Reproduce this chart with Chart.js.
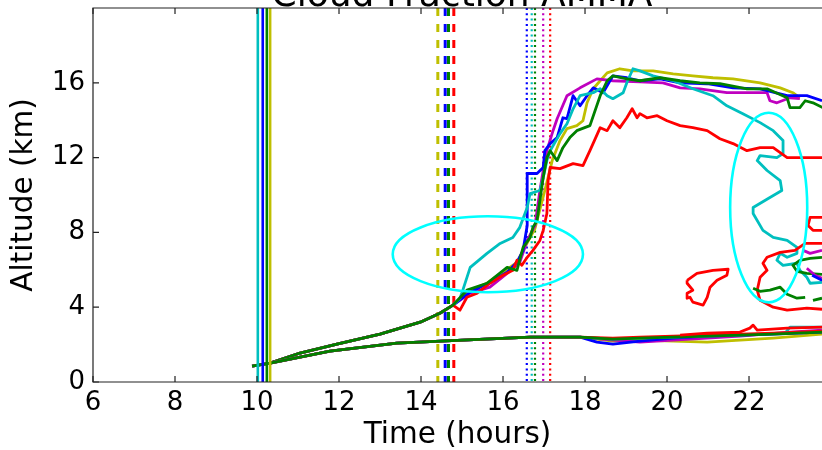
<!DOCTYPE html>
<html>
<head>
<meta charset="utf-8">
<script src="https://cdn.jsdelivr.net/npm/chart.js@4.4.0/dist/chart.umd.min.js"></script>
<style>
  body { margin: 0; background: #fff; }
  canvas { display: block; }
</style>
</head>
<body>
<canvas id="cloudChart" width="822" height="450"></canvas>
<script>
// Axis ticks
const xTicks = [6, 8, 10, 12, 14, 16, 18, 20, 22];
const yTicks = [0, 4, 8, 12, 16];

// Vertical markers (time in hours) for each run
const startRuns = ['c', 'b', 'g', 'y'];
const startTimes = [10.02, 10.14, 10.24, 10.32];
const dashRuns = ['y', 'b', 'g', 'r'];
const dashTimes = [14.41, 14.59, 14.67, 14.80];
const dotRuns = ['b', 'c', 'g', 'm', 'r'];
const dotTimes = [16.58, 16.70, 16.78, 16.98, 17.15];

// Cloud top / base tracks, [time (h), altitude (km)]
const topShared = [[9.88,0.85],[10.32,1.01],[11.05,1.55],[11.95,2.03],[13.0,2.56],[13.98,3.2],[14.46,3.68],[14.78,4.11]];
const baseShared = [[10.32,1.01],[11.78,1.65],[13.41,2.08],[15.02,2.24],[16.66,2.4],[17.88,2.4]];

const blueTop = [[15.2,4.8],[15.68,5.33],[16.1,5.87],[16.34,6.4],[16.49,7.04],[16.59,8.37],[16.59,11.15],[16.83,11.15],[16.98,11.47],[17.02,12.37],[17.15,12.75],[17.32,13.07],[17.46,14.13],[17.56,14.08],[17.71,15.31],[17.88,14.77],[18.05,15.31],[18.2,15.73],[18.44,15.47],[18.68,16.37],[19.02,16.27],[19.34,16.11],[19.83,16.21],[20.32,16.0],[20.98,15.95],[21.61,15.73],[22.27,15.68],[22.93,15.31],[23.41,15.31],[23.78,15.04]];
const magentaTop = [[15.2,4.75],[15.68,5.07],[16.1,5.81],[16.41,6.4],[16.59,7.57],[16.78,8.37],[16.9,10.24],[17.02,11.84],[17.07,12.37],[17.22,13.44],[17.32,14.08],[17.56,15.31],[17.88,15.73],[18.29,16.21],[18.68,16.11],[19.34,16.05],[19.9,16.0],[20.32,15.73],[20.8,15.68],[21.46,15.47],[22.1,15.47],[22.44,15.47],[22.51,15.04],[22.68,14.93],[23.0,15.2],[23.24,15.15]];
const yellowTop = [[15.2,4.91],[15.61,5.28],[16.0,5.87],[16.34,6.4],[16.49,7.04],[16.78,8.21],[17.02,10.24],[17.2,11.84],[17.39,12.91],[17.56,13.55],[17.8,13.71],[17.95,13.97],[18.05,14.93],[18.2,15.68],[18.37,16.11],[18.54,16.53],[18.85,16.75],[19.17,16.64],[19.66,16.64],[20.15,16.48],[20.63,16.37],[21.12,16.27],[21.61,16.21],[22.27,16.0],[22.76,15.73],[23.07,15.47],[23.24,15.2]];
const cyanTop = [[14.95,4.48],[15.02,4.91],[15.2,6.13],[15.61,6.88],[15.93,7.41],[16.24,7.73],[16.41,8.27],[16.59,9.33],[16.66,10.08],[16.9,10.24],[16.98,10.93],[17.07,11.84],[17.15,12.37],[17.39,13.28],[17.56,13.81],[17.71,14.61],[17.88,15.31],[18.2,15.47],[18.37,15.68],[18.54,15.31],[18.68,15.15],[18.93,15.47],[19.02,16.0],[19.17,16.75],[19.34,16.64],[19.66,16.37],[20.15,16.11],[20.63,15.68],[21.12,15.31],[21.46,14.77],[21.85,14.35],[22.27,13.87],[22.59,13.44],[22.83,12.91],[22.83,12.21],[22.68,12.0],[22.27,12.11],[22.2,11.84],[22.44,11.31],[22.76,10.77],[22.8,10.24],[22.51,9.87],[22.1,9.33],[22.1,9.01],[22.34,8.11],[22.59,7.73],[22.93,7.57],[23.17,7.2],[23.17,6.88],[22.93,6.67],[22.76,6.88],[22.68,6.51],[22.83,6.24],[23.17,6.35],[23.24,5.97],[23.41,5.6],[23.49,5.28],[23.78,5.33]];
const greenTop = [[15.12,4.91],[15.61,5.28],[16.1,6.13],[16.34,5.97],[16.49,7.2],[16.66,7.73],[16.73,8.27],[16.83,8.64],[16.98,10.93],[17.07,12.0],[17.15,12.37],[17.32,11.84],[17.46,12.53],[17.63,13.07],[17.8,13.44],[18.12,13.71],[18.37,15.31],[18.54,16.11],[18.68,16.37],[19.02,16.21],[19.34,16.11],[19.83,16.27],[20.32,16.11],[20.8,16.0],[21.29,15.95],[21.95,15.68],[22.44,15.68],[22.93,15.2],[23.0,14.67],[23.24,14.67],[23.37,15.04],[23.56,14.93],[23.8,14.67]];
const redTop = [[14.95,3.84],[15.12,4.53],[15.37,4.75],[15.68,5.28],[16.0,5.71],[16.24,5.97],[16.34,6.51],[16.46,6.24],[16.59,6.67],[16.73,7.04],[16.9,7.57],[16.98,8.11],[17.07,9.01],[17.1,10.77],[17.15,11.47],[17.39,11.41],[17.71,11.68],[17.95,11.57],[18.12,12.37],[18.37,13.6],[18.54,13.44],[18.68,13.97],[18.85,13.6],[19.02,14.13],[19.15,14.61],[19.27,14.13],[19.34,14.35],[19.51,14.13],[19.76,14.24],[20.0,13.97],[20.32,13.71],[20.63,13.6],[20.98,13.44],[21.29,13.01],[21.61,12.75],[21.95,12.37],[22.27,12.53],[22.59,12.53],[22.93,12.0],[23.41,12.0],[23.78,12.0]];

const blueBase = [[18.29,2.13],[18.68,2.03],[19.34,2.19],[20.15,2.35],[20.98,2.45],[21.78,2.51],[22.59,2.56],[23.78,2.67]];
const yellowBase = [[18.68,2.19],[19.34,2.24],[20.15,2.19],[20.98,2.13],[21.78,2.24],[22.59,2.35],[23.78,2.56]];
const magentaBase = [[18.68,2.24],[19.34,2.13],[20.15,2.24],[20.98,2.35],[21.78,2.45],[23.0,2.67],[23.78,2.77]];
const greenBase = [[18.68,2.29],[19.34,2.35],[20.15,2.4],[20.98,2.45],[21.78,2.51],[22.59,2.56],[23.78,2.67]];
const cyanBase = [[18.68,2.29],[19.34,2.35],[20.15,2.4],[20.98,2.45],[21.78,2.51],[22.88,2.61],[23.0,2.93],[23.78,2.93]];
const redBase = [[18.68,2.35],[19.34,2.4],[20.15,2.45],[20.98,2.51],[21.78,2.56],[22.59,2.61],[23.78,2.72]];

// Isolated contour pieces
const redBlob = [[20.49,5.44],[20.73,5.81],[21.12,5.97],[21.49,6.03],[21.46,5.71],[21.22,5.44],[21.05,5.07],[20.98,4.53],[20.88,4.11],[20.63,4.27],[20.56,4.53],[20.49,4.48],[20.49,4.75],[20.63,4.91],[20.49,5.28],[20.49,5.44]];
const redRing = [[23.78,7.41],[23.37,7.41],[23.12,7.04],[22.76,6.93],[22.44,6.67],[22.34,6.35],[22.44,5.97],[22.27,5.6],[22.2,4.91],[22.27,4.37],[22.59,4.0],[22.93,3.84],[23.41,3.95],[23.78,3.89]];
const redPatch = [[23.78,8.8],[23.49,8.8],[23.44,8.37],[23.56,8.11],[23.78,8.11]];
const redLow = [[20.32,2.51],[20.98,2.61],[21.78,2.67],[22.02,2.88],[22.1,3.04],[22.2,2.77],[22.93,2.88],[23.78,2.93]];
const greenLoop = [[22.1,5.01],[22.27,4.85],[22.51,4.91],[22.76,5.07],[22.93,4.69],[23.17,4.48],[23.37,4.53]];
const greenHook = [[23.78,6.67],[23.49,6.61],[23.24,6.51],[23.07,6.24],[23.17,5.92],[23.41,5.81],[23.78,5.76]];
const greenBit = [[23.56,4.37],[23.78,4.48]];
const magentaBitHigh = [[23.32,7.04],[23.49,6.88],[23.78,7.04]];
const magentaBitLow = [[23.41,6.08],[23.61,5.71],[23.78,5.55]];
const blueBit = [[23.54,5.71],[23.78,5.44]];

// Highlight ellipses: centre and half-widths in data units
const ellipseCentres = [[15.63, 6.83], [22.48, 9.33]];
const ellipseRadii = [[2.32, 2.03], [0.94, 5.07]];

const colors = { b: '#0000ff', g: '#008000', r: '#ff0000', c: '#00bfbf', m: '#bf00bf', y: '#bfbf00' };
const FONT = 'DejaVu Sans';

function track(points, color, width) {
    return { data: points, borderColor: color, borderWidth: width || 2.8, pointRadius: 0,
             showLine: true, fill: false, tension: 0, borderJoinStyle: 'round' };
}
function marker(t, color, dash, width) {
    const ds = track([[t, 20], [t, 0]], color, width);
    ds.borderDash = dash;
    ds.borderCapStyle = 'butt';
    return ds;
}

// bottom -> top drawing order
const layers = [];
dotRuns.forEach((r, i) => layers.push(marker(dotTimes[i], colors[r], [2, 3.3], 2.2)));
dashRuns.forEach((r, i) => layers.push(marker(dashTimes[i], colors[r], [8, 8], 3)));

const tops = { y: yellowTop, m: magentaTop, b: blueTop, c: cyanTop, r: redTop, g: greenTop };
const bases = { y: yellowBase, m: magentaBase, b: blueBase, c: cyanBase, r: redBase, g: greenBase };
['y', 'm', 'b', 'c', 'r', 'g'].forEach(r => layers.push(track(topShared.concat(tops[r]), colors[r])));
['y', 'm', 'b', 'c', 'r', 'g'].forEach(r => layers.push(track(baseShared.concat(bases[r]), colors[r])));

[redBlob, redRing, redPatch, redLow].forEach(p => layers.push(track(p, colors.r)));
[greenLoop, greenHook, greenBit].forEach(p => layers.push(track(p, colors.g)));
[magentaBitHigh, magentaBitLow].forEach(p => layers.push(track(p, colors.m)));
layers.push(track(blueBit, colors.b));

startRuns.forEach((r, i) => layers.push(marker(startTimes[i], colors[r], [], 2.6)));

// Frame, inward ticks, ellipses and the (cropped) title
const decorations = {
    id: 'decorations',
    afterDatasetsDraw(chart) {
        const { ctx, chartArea: a, scales: { x, y } } = chart;
        ctx.save();
        ctx.strokeStyle = '#00ffff';
        ctx.lineWidth = 2.6;
        ellipseCentres.forEach((c, i) => {
            const cx = x.getPixelForValue(c[0]);
            const cy = y.getPixelForValue(c[1]);
            const rx = x.getPixelForValue(c[0] + ellipseRadii[i][0]) - cx;
            const ry = cy - y.getPixelForValue(c[1] + ellipseRadii[i][1]);
            ctx.beginPath();
            ctx.ellipse(cx, cy, rx, ry, 0, 0, Math.PI * 2);
            ctx.stroke();
        });

        ctx.strokeStyle = '#222';
        ctx.lineWidth = 1.2;
        ctx.beginPath();
        ctx.moveTo(a.right + 2, a.top);
        ctx.lineTo(a.left, a.top);
        ctx.lineTo(a.left, a.bottom);
        ctx.lineTo(a.right + 2, a.bottom);
        ctx.stroke();

        ctx.beginPath();
        x.ticks.forEach(t => {
            const px = x.getPixelForValue(t.value);
            ctx.moveTo(px, a.bottom); ctx.lineTo(px, a.bottom - 6);
            ctx.moveTo(px, a.top); ctx.lineTo(px, a.top + 6);
        });
        y.ticks.forEach(t => {
            const py = y.getPixelForValue(t.value);
            ctx.moveTo(a.left, py); ctx.lineTo(a.left + 6, py);
        });
        ctx.stroke();

        ctx.fillStyle = '#000';
        ctx.font = '36px "' + FONT + '"';
        ctx.textAlign = 'center';
        ctx.textBaseline = 'alphabetic';
        ctx.fillText('Cloud Fraction AMMA', x.getPixelForValue(15), 6);
        ctx.restore();
    }
};

new Chart(document.getElementById('cloudChart'), {
    type: 'scatter',
    data: { datasets: layers.reverse() },
    options: {
        responsive: false,
        animation: false,
        events: [],
        layout: { padding: { top: 8, left: 0, right: 0, bottom: 0 } },
        plugins: { legend: { display: false }, tooltip: { enabled: false } },
        scales: {
            x: {
                type: 'linear', min: 6, max: 23.78,
                grid: { display: false, drawTicks: false },
                border: { display: false },
                afterBuildTicks: s => { s.ticks = xTicks.map(v => ({ value: v })); },
                ticks: { padding: 6, color: '#000', maxRotation: 0, autoSkip: false,
                         font: { family: FONT, size: 26 } },
                title: { display: true, text: 'Time (hours)', color: '#000',
                         font: { family: FONT, size: 29.5, lineHeight: 1 }, padding: { top: 0, bottom: 0 } },
                afterFit: s => { s.height = 68; s.paddingLeft = 0; s.paddingRight = 0; }
            },
            y: {
                type: 'linear', min: 0, max: 20,
                grid: { display: false, drawTicks: false },
                border: { display: false },
                afterBuildTicks: s => { s.ticks = yTicks.map(v => ({ value: v })); },
                ticks: { padding: 8, color: '#000', font: { family: FONT, size: 26 } },
                title: { display: true, text: 'Altitude (km)', color: '#000',
                         font: { family: FONT, size: 29.5, lineHeight: 1 }, padding: { top: 10, bottom: 0 } },
                afterFit: s => { s.width = 93; s.paddingTop = 0; s.paddingBottom = 0; }
            }
        }
    },
    plugins: [decorations]
});
</script>
</body>
</html>
